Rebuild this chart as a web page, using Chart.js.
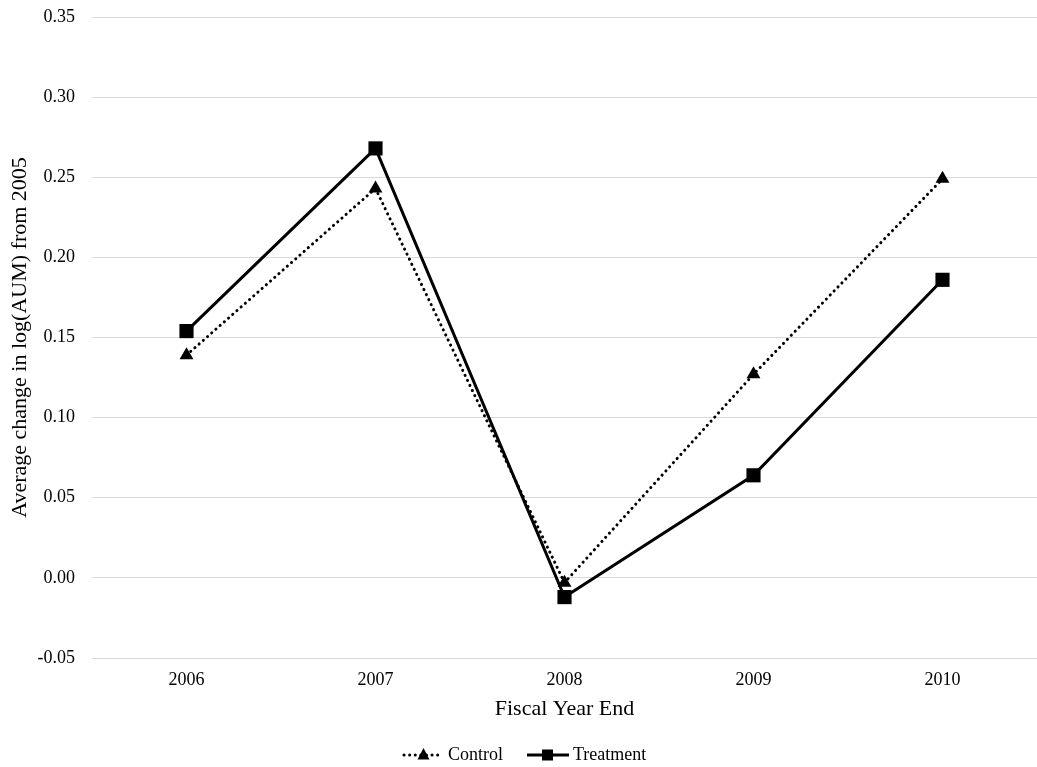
<!DOCTYPE html>
<html>
<head>
<meta charset="utf-8">
<script src="https://cdn.jsdelivr.net/npm/chart.js@4"></script>
<style>
  html, body { margin: 0; padding: 0; background: #fff; }
  #wrap { width: 1037px; height: 767px; }
</style>
</head>
<body>
<div id="wrap"><canvas id="chart" width="1037" height="767"></canvas></div>
<script>
const years = ["2006", "2007", "2008", "2009", "2010"];
const control = [0.139, 0.243, -0.003, 0.127, 0.249];
const treatment = [0.154, 0.268, -0.012, 0.064, 0.186];

const FONT = "'Liberation Serif', 'Times New Roman', serif";

// legend with line samples, drawn under the chart
const lineLegend = {
  id: "lineLegend",
  afterDraw(chart) {
    const ctx = chart.ctx;
    const y = 755;
    ctx.save();
    ctx.strokeStyle = "#000";
    ctx.fillStyle = "#000";

    // control: dotted + triangle
    ctx.lineWidth = 3;
    ctx.lineCap = "round";
    ctx.setLineDash([0.1, 5.5]);
    ctx.beginPath();
    ctx.moveTo(404, y);
    ctx.lineTo(443, y);
    ctx.stroke();
    ctx.setLineDash([]);
    ctx.beginPath();
    ctx.moveTo(423.5, y - 7);
    ctx.lineTo(429.5, y + 4.5);
    ctx.lineTo(417.5, y + 4.5);
    ctx.closePath();
    ctx.fill();

    // treatment: solid + square
    ctx.lineWidth = 3;
    ctx.lineCap = "butt";
    ctx.beginPath();
    ctx.moveTo(527, y);
    ctx.lineTo(569, y);
    ctx.stroke();
    ctx.fillRect(542, y - 5.5, 11, 11);

    ctx.font = "18px " + FONT;
    ctx.textBaseline = "middle";
    ctx.fillText("Control", 448, y);
    ctx.fillText("Treatment", 573, y);
    ctx.restore();
  },
};

new Chart(document.getElementById("chart"), {
  type: "line",
  data: {
    labels: years,
    datasets: [
      {
        label: "Control",
        data: control,
        borderColor: "#000",
        backgroundColor: "#000",
        borderWidth: 3,
        borderDash: [0.1, 5.5],
        borderCapStyle: "round",
        pointStyle: "triangle",
        pointRadius: 8,
        pointHoverRadius: 8,
        pointBorderWidth: 0,
        tension: 0,
      },
      {
        label: "Treatment",
        data: treatment,
        borderColor: "#000",
        backgroundColor: "#000",
        borderWidth: 3,
        pointStyle: "rect",
        pointRadius: 10,
        pointHoverRadius: 10,
        pointBorderWidth: 0,
        tension: 0,
      },
    ],
  },
  options: {
    responsive: false,
    animation: false,
    layout: {
      autoPadding: false,
      padding: { left: 0, right: 0, top: 17, bottom: 45 },
    },
    scales: {
      x: {
        offset: true,
        grid: { display: false, drawTicks: false },
        border: { display: false },
        ticks: { color: "#000", font: { family: FONT, size: 18 }, padding: 11 },
        title: {
          display: true,
          text: "Fiscal Year End",
          color: "#000",
          font: { family: FONT, size: 22 },
          padding: { top: 0, bottom: 0 },
        },
        afterFit(scale) {
          scale.height = 64;
          scale.paddingLeft = 0;
          scale.paddingRight = 0;
        },
      },
      y: {
        min: -0.05,
        max: 0.35,
        grid: { color: "#d9d9d9", drawTicks: false, lineWidth: 1 },
        border: { display: false },
        ticks: {
          stepSize: 0.05,
          color: "#000",
          font: { family: FONT, size: 18 },
          padding: 17,
          callback: (v) => (Math.abs(v) < 1e-9 ? 0 : v).toFixed(2),
        },
        title: {
          display: true,
          text: "Average change in log(AUM) from 2005",
          color: "#000",
          font: { family: FONT, size: 22 },
          padding: { top: 7, bottom: 0 },
        },
        afterFit(scale) {
          scale.width = 92;
          scale.paddingTop = 0;
          scale.paddingBottom = 0;
        },
      },
    },
    plugins: {
      legend: { display: false },
      tooltip: { enabled: false },
    },
  },
  plugins: [lineLegend],
});
</script>
</body>
</html>
